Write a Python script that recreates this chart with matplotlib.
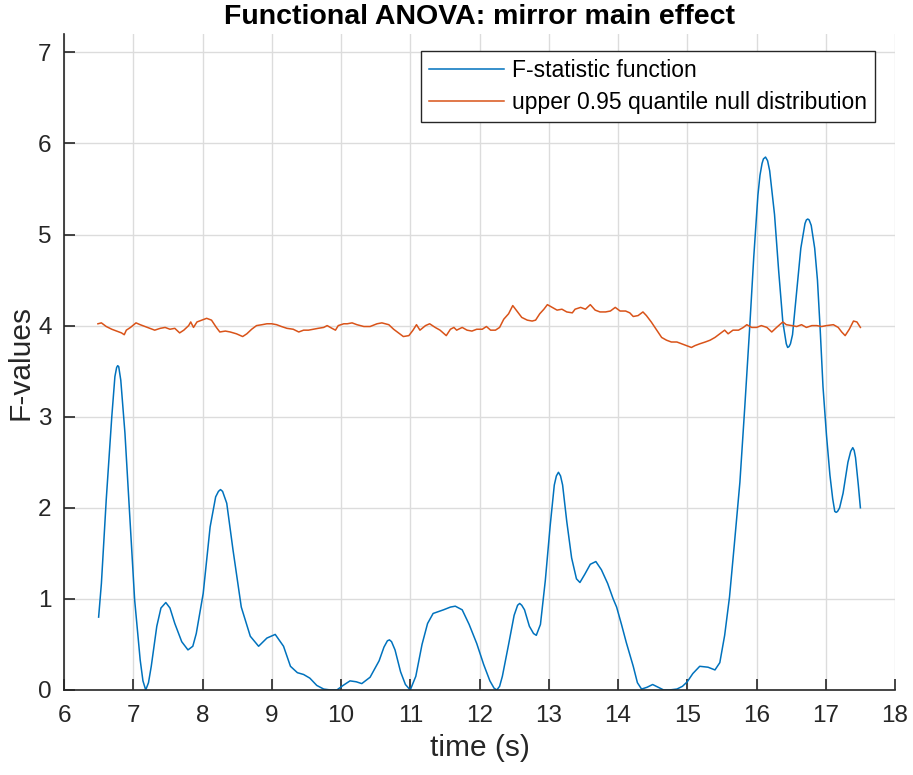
import matplotlib
matplotlib.use("Agg")
import matplotlib.pyplot as plt

# F-statistic function
t_f = [6.50, 6.54, 6.61, 6.69, 6.735, 6.76, 6.775, 6.79, 6.82, 6.88, 6.95, 7.02, 7.10,
       7.14, 7.18, 7.22, 7.26, 7.34, 7.40, 7.47, 7.53, 7.60, 7.70, 7.79, 7.86, 7.91,
       8.01, 8.11, 8.19, 8.23, 8.26, 8.29, 8.35, 8.44, 8.56, 8.69, 8.81, 8.93, 9.05,
       9.17, 9.27, 9.37, 9.46, 9.55, 9.65, 9.75, 9.85, 9.94, 10.03, 10.13, 10.22, 10.30,
       10.42, 10.55, 10.62, 10.67, 10.70, 10.73, 10.78, 10.86, 10.93, 11.0, 11.08, 11.17,
       11.25, 11.33, 11.48, 11.58, 11.65, 11.75, 11.85, 11.96, 12.06, 12.15, 12.21,
       12.25, 12.29, 12.33, 12.42, 12.50, 12.55, 12.58, 12.61, 12.65, 12.72, 12.78,
       12.82, 12.88, 12.95, 13.02, 13.08, 13.11, 13.14, 13.17, 13.20, 13.26, 13.33,
       13.40, 13.45, 13.52, 13.60, 13.68, 13.76, 13.85, 13.93, 13.98, 14.05, 14.12,
       14.22, 14.28, 14.34, 14.42, 14.50, 14.58, 14.66, 14.74, 14.85, 14.93, 15.00,
       15.08, 15.18, 15.30, 15.40, 15.47, 15.54, 15.61, 15.68, 15.76, 15.83, 15.90,
       15.96, 16.02, 16.05, 16.08, 16.10, 16.13, 16.16, 16.19, 16.26, 16.32, 16.38,
       16.43, 16.45, 16.47, 16.49, 16.52, 16.58, 16.64, 16.70, 16.72, 16.74, 16.76,
       16.79, 16.84, 16.88, 16.92, 16.96, 17.01, 17.06, 17.10, 17.13, 17.15, 17.17,
       17.20, 17.25, 17.32, 17.36, 17.39, 17.41, 17.43, 17.47, 17.50]
f_vals = [0.80, 1.17, 2.09, 3.00, 3.44, 3.54, 3.56, 3.55, 3.40, 2.82, 1.90, 0.99, 0.33,
          0.10, 0.00, 0.08, 0.26, 0.70, 0.90, 0.96, 0.90, 0.73, 0.53, 0.44, 0.48, 0.62,
          1.06, 1.79, 2.12, 2.18, 2.20, 2.18, 2.05, 1.54, 0.91, 0.59, 0.48, 0.57, 0.61,
          0.48, 0.26, 0.19, 0.17, 0.13, 0.05, 0.01, 0.00, 0.00, 0.05, 0.10, 0.09, 0.07,
          0.14, 0.32, 0.47, 0.54, 0.55, 0.53, 0.44, 0.20, 0.06, 0.00, 0.15, 0.50,
          0.73, 0.84, 0.88, 0.91, 0.92, 0.88, 0.72, 0.51, 0.28, 0.10, 0.02,
          0.00, 0.04, 0.15, 0.50, 0.82, 0.93, 0.95, 0.93, 0.88, 0.70, 0.62,
          0.60, 0.72, 1.20, 1.80, 2.25, 2.35, 2.39, 2.35, 2.25, 1.85, 1.45,
          1.22, 1.18, 1.27, 1.38, 1.41, 1.32, 1.17, 1.00, 0.91, 0.72, 0.52,
          0.26, 0.08, 0.01, 0.03, 0.06, 0.03, 0.00, 0.00, 0.01, 0.04, 0.09,
          0.18, 0.26, 0.25, 0.22, 0.30, 0.60, 1.02, 1.60, 2.28, 3.10, 3.96,
          4.75, 5.43, 5.65, 5.78, 5.83, 5.85, 5.81, 5.70, 5.22, 4.60, 4.04,
          3.80, 3.76, 3.77, 3.80, 3.90, 4.38, 4.85, 5.12, 5.16, 5.17, 5.16,
          5.10, 4.85, 4.50, 3.95, 3.33, 2.80, 2.36, 2.10, 1.96, 1.95, 1.96,
          2.00, 2.16, 2.50, 2.62, 2.66, 2.63, 2.55, 2.25, 2.00]

# upper 0.95 quantile of the null distribution
t_q = [6.49, 6.54, 6.61, 6.69, 6.76, 6.83, 6.87, 6.90, 6.96, 7.04, 7.10, 7.17, 7.24,
       7.31, 7.39, 7.46, 7.53, 7.60, 7.67, 7.73, 7.80, 7.83, 7.87, 7.92, 7.99, 8.06,
       8.13, 8.20, 8.25, 8.33, 8.40, 8.49, 8.58, 8.64, 8.71, 8.78, 8.86, 8.93, 9.00,
       9.07, 9.14, 9.22, 9.31, 9.39, 9.46, 9.53, 9.60, 9.67, 9.75, 9.80, 9.87, 9.92,
       9.96, 10.04, 10.09, 10.16, 10.23, 10.33, 10.42, 10.52, 10.59, 10.69, 10.76,
       10.83, 10.90, 10.98, 11.04, 11.09, 11.14, 11.22, 11.28, 11.36, 11.43, 11.52,
       11.58, 11.63, 11.67, 11.75, 11.82, 11.89, 11.96, 12.04, 12.10, 12.16, 12.23,
       12.29, 12.35, 12.42, 12.48, 12.54, 12.61, 12.69, 12.76, 12.81, 12.87, 12.93,
       12.98, 13.05, 13.12, 13.19, 13.26, 13.34, 13.38, 13.46, 13.53, 13.60, 13.67,
       13.74, 13.82, 13.89, 13.96, 14.03, 14.11, 14.17, 14.22, 14.29, 14.36, 14.41,
       14.48, 14.56, 14.63, 14.70, 14.77, 14.85, 14.92, 14.99, 15.06, 15.11, 15.18,
       15.26, 15.33, 15.40, 15.47, 15.54, 15.59, 15.66, 15.74, 15.81, 15.86, 15.93,
       16.00, 16.07, 16.15, 16.22, 16.29, 16.38, 16.43, 16.51, 16.58, 16.65, 16.72,
       16.80, 16.87, 16.94, 17.01, 17.11, 17.18, 17.23, 17.28, 17.34, 17.40, 17.45,
       17.50]
q_vals = [4.02, 4.03, 3.99, 3.96, 3.94, 3.92, 3.90, 3.95, 3.98, 4.03, 4.01, 3.99, 3.97,
          3.95, 3.97, 3.98, 3.96, 3.97, 3.92, 3.95, 4.00, 4.04, 3.98, 4.04, 4.06, 4.08,
          4.06, 3.98, 3.93, 3.94, 3.93, 3.91, 3.88, 3.91, 3.96, 4.00, 4.01, 4.02, 4.02,
          4.01, 3.99, 3.97, 3.96, 3.93, 3.95, 3.95, 3.96, 3.97, 3.98, 4.00, 3.97, 3.95,
          4.00, 4.02, 4.02, 4.03, 4.01, 3.99, 3.99, 4.02, 4.03, 4.01, 3.96,
          3.92, 3.88, 3.89, 3.95, 4.01, 3.95, 4.00, 4.02, 3.98, 3.95, 3.89,
          3.96, 3.98, 3.95, 3.98, 3.95, 3.94, 3.96, 3.96, 3.99, 3.95, 3.95,
          3.98, 4.07, 4.13, 4.22, 4.16, 4.09, 4.06, 4.05, 4.06, 4.13, 4.18,
          4.23, 4.20, 4.17, 4.18, 4.15, 4.14, 4.18, 4.20, 4.18, 4.23, 4.17,
          4.15, 4.15, 4.16, 4.20, 4.16, 4.16, 4.14, 4.10, 4.11, 4.15, 4.11,
          4.04, 3.95, 3.87, 3.84, 3.82, 3.82, 3.80, 3.78, 3.76, 3.78, 3.80,
          3.82, 3.84, 3.87, 3.91, 3.95, 3.91, 3.95, 3.95, 3.98, 4.01, 3.98,
          3.98, 4.00, 3.98, 3.93, 3.98, 4.04, 4.01, 4.00, 3.99, 4.01, 3.98,
          4.00, 4.00, 3.99, 4.00, 4.01, 3.98, 3.93, 3.89, 3.96, 4.05, 4.04,
          3.98]

x_ticks = list(range(6, 19))
y_ticks = list(range(0, 8))

plt.rcParams["font.family"] = ["Liberation Sans", "DejaVu Sans"]
dark = "#262626"

fig = plt.figure(figsize=(9.13, 7.75), dpi=100)
ax = fig.add_axes([0.0701, 0.1097, 0.9102, 0.8463])

ax.plot(t_f, f_vals, color="#0072BD", lw=1.1, label="F-statistic function")
ax.plot(t_q, q_vals, color="#D95319", lw=1.1, label="upper 0.95 quantile null distribution")

ax.set_xlim(6, 18)
ax.set_ylim(0, 7.2)
ax.set_xticks(x_ticks)
ax.set_yticks(y_ticks)
ax.grid(True, color="#dcdcdc", lw=1.0)
ax.set_axisbelow(True)
for s in ["top", "right"]:
    ax.spines[s].set_visible(False)
for s in ["left", "bottom"]:
    ax.spines[s].set_color(dark)
    ax.spines[s].set_linewidth(1.2)
ax.tick_params(direction="in", length=8, width=1.2, color=dark, labelcolor=dark,
               labelsize=17.5)
ax.tick_params(axis="x", pad=11)
ax.tick_params(axis="y", pad=9)

ax.set_title("Functional ANOVA: mirror main effect", fontsize=20.5, fontweight="bold",
             color="black", pad=7)
ax.set_xlabel("time (s)", fontsize=21.5, color=dark, labelpad=5)
ax.set_ylabel("F-values", fontsize=21.5, color=dark)
ax.yaxis.set_label_coords(-0.035, 0.5)

leg = ax.legend(loc="upper right", bbox_to_anchor=(0.9765, 0.974), fontsize=16.5,
                fancybox=False, framealpha=1, edgecolor=dark, handlelength=3.3,
                handletextpad=0.35, borderpad=0.35, labelspacing=0.4, borderaxespad=0)
leg.get_frame().set_linewidth(1.0)

fig.savefig("out.png", dpi=100)
